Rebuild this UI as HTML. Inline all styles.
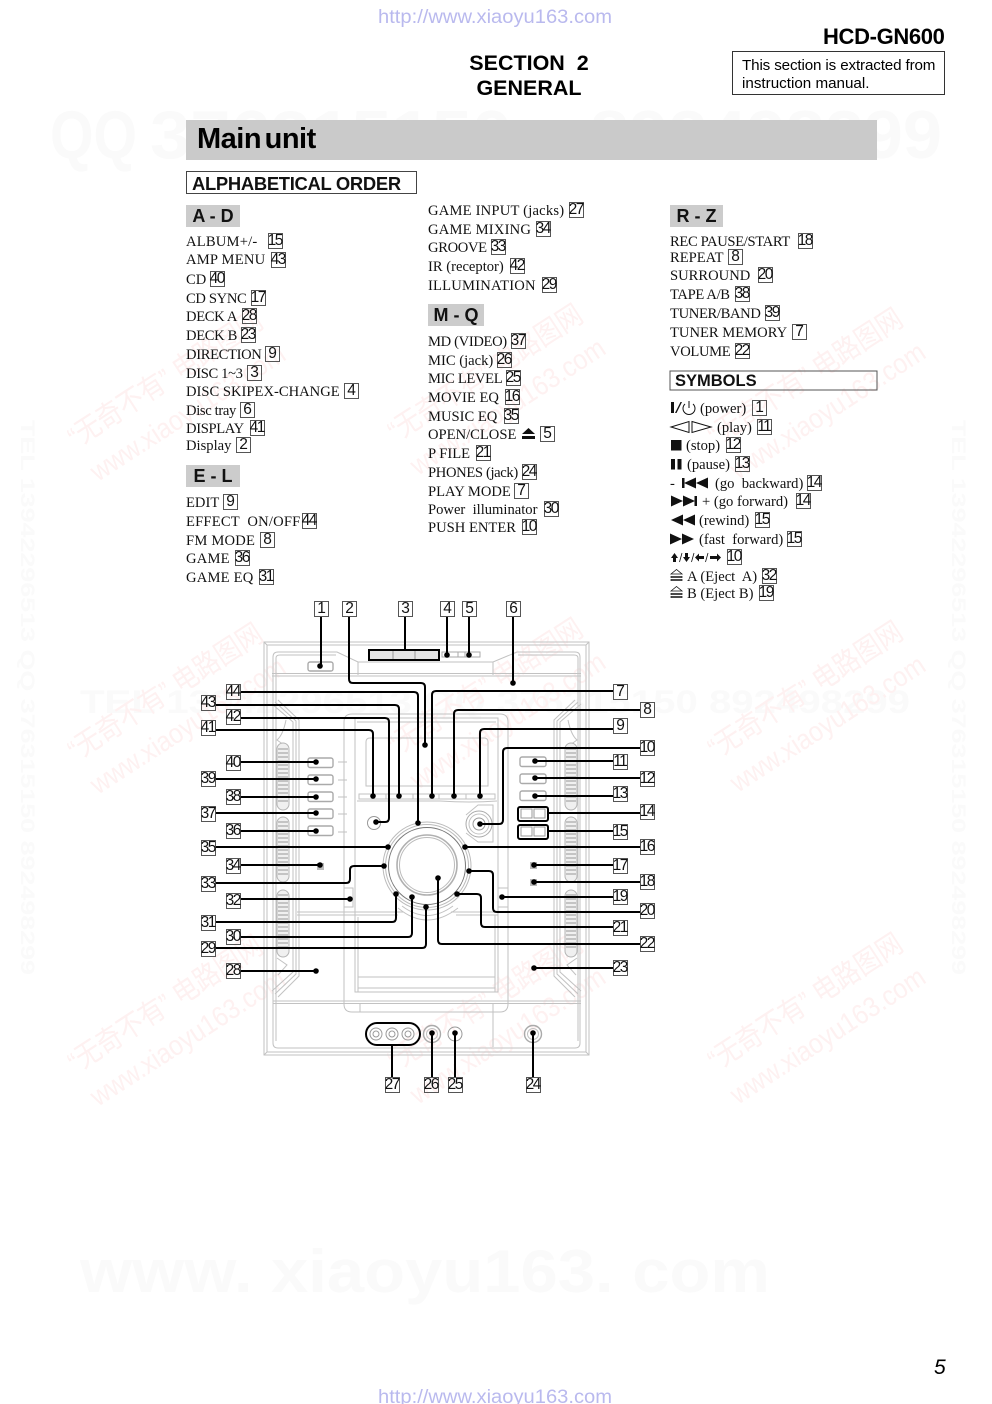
<!DOCTYPE html>
<html><head><meta charset="utf-8"><style>
html,body{margin:0;padding:0;background:#fff}
body{position:relative;width:992px;height:1404px;overflow:hidden}
svg{position:absolute;left:0;top:0}
.t{position:absolute;font:14.6px/16px "Liberation Serif",serif;white-space:pre;color:#111;margin-top:1px}
.n{letter-spacing:-.35px}
.w{letter-spacing:.2px}
i{position:absolute;box-sizing:border-box;height:16px;width:15px;border:1px solid #555;font:normal 15.5px/14px "Liberation Sans",sans-serif;text-align:center;letter-spacing:-1.5px;color:#111;white-space:nowrap;text-indent:-1.5px}
.h{position:absolute;background:#ccc;font:bold 18px/22px "Liberation Sans",sans-serif;text-align:center;height:22px;color:#111}
.s{position:absolute;font:bold 17.5px/20px "Liberation Sans",sans-serif;white-space:pre;color:#111}
</style></head><body>
<svg width="992" height="1404" viewBox="0 0 992 1404" font-family="Liberation Sans, Noto Sans CJK SC, sans-serif">
<defs>
<g id="wm"><text x="0" y="-40" font-size="29" textLength="225" lengthAdjust="spacingAndGlyphs">“无奇不有” 电路图网</text><text x="0" y="0" font-size="28" textLength="226" lengthAdjust="spacingAndGlyphs">www.xiaoyu163.com</text></g>
</defs>
<g fill="#fafafa" font-weight="bold">
<text x="50" y="158" font-size="68" textLength="87" lengthAdjust="spacingAndGlyphs">QQ</text>
<text x="150" y="158" font-size="68" textLength="362" lengthAdjust="spacingAndGlyphs">376315150</text>
<text x="590" y="158" font-size="68" textLength="352" lengthAdjust="spacingAndGlyphs">892498299</text>
<text x="80" y="713" font-size="32" textLength="830" lengthAdjust="spacingAndGlyphs">TEL 13942296513  QQ 376315150  892498299</text>
<text x="80" y="1292" font-size="60" textLength="690" lengthAdjust="spacingAndGlyphs">www. xiaoyu163. com</text>
<text transform="translate(21,420) rotate(90)" font-size="19" textLength="555" lengthAdjust="spacingAndGlyphs">TEL 13942296513  QQ 376315150  892498299</text>
<text transform="translate(952,420) rotate(90)" font-size="19" textLength="555" lengthAdjust="spacingAndGlyphs">TEL 13942296513  QQ 376315150  892498299</text>
</g>
<g fill="#fef1f1">
<use href="#wm" transform="translate(98,482) rotate(-33)"/>
<use href="#wm" transform="translate(418,476) rotate(-33)"/>
<use href="#wm" transform="translate(738,480) rotate(-33)"/>
<use href="#wm" transform="translate(98,795) rotate(-33)"/>
<use href="#wm" transform="translate(418,790) rotate(-33)"/>
<use href="#wm" transform="translate(738,793) rotate(-33)"/>
<use href="#wm" transform="translate(98,1107) rotate(-33)"/>
<use href="#wm" transform="translate(418,1105) rotate(-33)"/>
<use href="#wm" transform="translate(738,1105) rotate(-33)"/>
</g>
<g fill="#b9b9ee" font-size="19"><text x="378" y="23" textLength="234" lengthAdjust="spacingAndGlyphs">http://www.xiaoyu163.com</text><text x="378" y="1403" textLength="234" lengthAdjust="spacingAndGlyphs">http://www.xiaoyu163.com</text></g>
<rect x="186" y="120" width="691" height="40" fill="#cacaca"/>
<rect x="732.5" y="51.5" width="212" height="43" fill="none" stroke="#333"/>
<rect x="186.5" y="171.5" width="230" height="22" fill="none" stroke="#444"/>
<rect x="670" y="371" width="207" height="19" fill="none" stroke="#555"/>

<!-- device outline -->
<g fill="none" stroke="#c2c2c2" stroke-width="1">
<path d="M264 1055V642H589V1055Z"/>
<path d="M267 1052V645H586V1052ZM264 642L267 645M589 642L586 645M264 1055L267 1052M589 1055L586 1052"/>
<path d="M273 1043V657Q273 652 278 652H337L358 662H493L517 652H575Q580 652 580 657V1043Q580 1048 575 1048H278Q273 1048 273 1043Z"/>
<path d="M276 1041V658Q276 655 280 655H336M578 1041V658Q578 655 574 655H518"/>
<path d="M358 662V675M493 662V675"/>
<path d="M272 673.5H581M272 676H581"/>
<path d="M272 704L293 722V972L272 991M275 702L296 721V974L275 994M278 700L299 720V976L278 997"/>
<path d="M581 704L560 722V972L581 991M578 702L557 721V974L578 994M575 700L554 720V976L575 997"/>
<path d="M273 1001H581M273 1003.5H581"/>
<path d="M344 722Q344 714 352 714H500Q508 714 508 722V1004Q508 1012 500 1012H352Q344 1012 344 1004Z"/>
<path d="M355 718H498V992H355ZM357 722H496M358 992V917M495 992V915"/>
<path d="M366 786V742Q366 738 370 738H484Q488 738 488 742V786H366Z"/>
<path d="M359 794H495V799H359ZM386 794V799M413 794V799M439 794V799M466 794V799"/>
<path d="M357 801H440Q470 803 497 801"/>
<path d="M297 912H403M451 912H508M297 915H398M456 915H498"/>
<path d="M358 977H495M358 988H495"/>
<path d="M360 1003V1012M493 1003V1047"/>
<path d="M344 888H353V907H344M508 888H498V907H508"/>
<path d="M402 906Q427 925 453 906M398 908Q427 932 458 908"/>
<path d="M286 720Q283 735 277 740L284 745M568 720Q571 735 577 740L570 745M277 958L287 965L278 975M577 958L567 965L576 975"/>
<g fill="#f0f0f0" stroke="#b5b5b5">
<rect x="277" y="743" width="12" height="67" rx="6"/><rect x="277" y="817" width="12" height="65" rx="6"/><rect x="277" y="890" width="12" height="67" rx="6"/>
<rect x="565" y="743" width="12" height="67" rx="6"/><rect x="565" y="817" width="12" height="65" rx="6"/><rect x="565" y="890" width="12" height="67" rx="6"/>
</g>
<g fill="#fff" stroke="#aaa" stroke-width="1.4"><rect x="308" y="662" width="25" height="9" rx="2"/>
<rect x="308" y="758" width="25" height="9.5" rx="2"/><rect x="308" y="775" width="25" height="9.5" rx="2"/><rect x="308" y="792" width="25" height="9.5" rx="2"/><rect x="308" y="809" width="25" height="9.5" rx="2"/><rect x="308" y="826" width="25" height="9.5" rx="2"/>
<rect x="520" y="757" width="26" height="9.5" rx="2"/><rect x="520" y="774" width="26" height="9.5" rx="2"/><rect x="520" y="791" width="26" height="9.5" rx="2"/></g>
<path d="M338 762H347M338 780H347M338 797H347M338 814H347M338 832H347"/>
<path d="M442 652H480V657H442ZM458 652V657M465 652V657" stroke="#aaa"/>
<circle cx="374" cy="823" r="6.5" stroke="#999"/>
<circle cx="479" cy="824" r="13" stroke="#aaa"/><circle cx="479" cy="824" r="10"/><circle cx="479" cy="824" r="6" stroke="#999"/>
<path d="M466 815L478 805H493V842H478L466 833"/>
<circle cx="427" cy="866" r="44" stroke="#bbb"/><circle cx="427" cy="866" r="41.5" stroke="#bbb"/><circle cx="427" cy="866" r="38.5" stroke="#777"/>
<circle cx="427" cy="865" r="30" stroke="#b0b0b0" stroke-width="1.6"/><circle cx="427" cy="865" r="27.5" stroke="#bbb"/>
<circle cx="432" cy="1034" r="8.5" stroke="#aaa" stroke-width="1.4"/><circle cx="432" cy="1034" r="5.5"/><circle cx="455" cy="1034" r="7" stroke="#999"/><circle cx="533" cy="1034" r="8.5" stroke="#aaa" stroke-width="1.4"/><circle cx="533" cy="1034" r="5.5"/>
<g stroke="#999"><circle cx="376" cy="1034" r="6"/><circle cx="376" cy="1034" r="3"/><circle cx="392" cy="1034" r="6"/><circle cx="392" cy="1034" r="3"/><circle cx="408" cy="1034" r="6"/><circle cx="408" cy="1034" r="3"/></g>
</g>
<g stroke="#aaa" stroke-width="1.2">
<path d="M278 749H288M278 753H288M278 757H288M278 761H288M278 765H288M278 769H288M278 773H288M278 777H288M278 781H288M278 785H288M278 789H288M278 793H288M278 797H288M278 801H288"/>
<path d="M278 822H288M278 826H288M278 830H288M278 834H288M278 838H288M278 842H288M278 846H288M278 850H288M278 854H288M278 858H288M278 862H288M278 866H288M278 870H288M278 874H288"/>
<path d="M278 895H288M278 899H288M278 903H288M278 907H288M278 911H288M278 915H288M278 919H288M278 923H288M278 927H288M278 931H288M278 935H288M278 939H288M278 943H288M278 947H288"/>
<path d="M566 749H576M566 753H576M566 757H576M566 761H576M566 765H576M566 769H576M566 773H576M566 777H576M566 781H576M566 785H576M566 789H576M566 793H576M566 797H576M566 801H576"/>
<path d="M566 822H576M566 826H576M566 830H576M566 834H576M566 838H576M566 842H576M566 846H576M566 850H576M566 854H576M566 858H576M566 862H576M566 866H576M566 870H576M566 874H576"/>
<path d="M566 895H576M566 899H576M566 903H576M566 907H576M566 911H576M566 915H576M566 919H576M566 923H576M566 927H576M566 931H576M566 935H576M566 939H576M566 943H576M566 947H576"/>
</g>
<g fill="#bbb"><rect x="317" y="863" width="7" height="7"/><rect x="530" y="862" width="7" height="7"/><rect x="530" y="879" width="7" height="7"/></g>
<rect x="370" y="650.5" width="68" height="8.5" fill="#e4e4e4"/>
<path d="M393 651V659M415 651V659" stroke="#999"/>
<g fill="none" stroke="#999"><rect x="521" y="809" width="11" height="9"/><rect x="534" y="809" width="11" height="9"/><rect x="521" y="827" width="11" height="9"/><rect x="534" y="827" width="11" height="9"/></g>

<!-- callouts -->
<g fill="none" stroke="#000" stroke-width="2">
<path d="M321 616V666"/>
<path d="M349 616V679Q349 683 353 683H421Q425 683 425 687V745"/>
<path d="M405 616V649M447 616V655M469 616V655M513 616V683"/>
<rect x="369" y="650" width="70" height="10"/>
<path d="M613 691H436Q432 691 432 695V796"/>
<path d="M640 710H458Q454 710 454 714V796"/>
<path d="M613 729H484Q480 729 480 733V796"/>
<path d="M640 748H507Q503 748 503 752V820Q503 824 499 824H480"/>
<path d="M613 761H535M640 778H535M613 796H535"/>
<path d="M640 813H548M613 831H548"/>
<rect x="518" y="807" width="30" height="14" rx="2"/><rect x="518" y="825" width="30" height="14" rx="2"/>
<path d="M640 847H465M613 865H534M640 882H534M613 897H502"/>
<path d="M640 912H497Q493 912 493 908V875Q493 871 489 871H469"/>
<path d="M613 927H485Q481 927 481 923V898Q481 894 477 894H457"/>
<path d="M640 944H442Q438 944 438 940V878"/>
<path d="M613 968H534"/>
<path d="M533 1077V1033M455 1077V1033M432 1077V1033M392 1077V1045"/>
<rect x="366" y="1023" width="54" height="22" rx="11"/>
<path d="M241 692H414Q418 692 418 696V823"/>
<path d="M216 705H395Q399 705 399 709V796"/>
<path d="M241 718H385Q389 718 389 722V818Q389 822 385 822H376"/>
<path d="M216 730H369Q373 730 373 734V796"/>
<path d="M241 762H316M216 779H316M241 797H316M216 813H316M241 831H316"/>
<path d="M216 847H388M241 865H320"/>
<path d="M216 883H346Q350 883 350 879V870Q350 866 354 866H384"/>
<path d="M241 899H350"/>
<path d="M216 922H392Q396 922 396 918V894"/>
<path d="M241 937H408Q412 937 412 933V897"/>
<path d="M216 948H422Q426 948 426 944V907"/>
<path d="M241 971H316"/>
</g>
<g fill="#000">
<circle cx="320" cy="666" r="2.8"/><circle cx="425" cy="745" r="2.8"/><circle cx="447" cy="655" r="2.8"/><circle cx="469" cy="655" r="2.8"/><circle cx="513" cy="683" r="2.8"/>
<circle cx="432" cy="796" r="2.8"/><circle cx="454" cy="796" r="2.8"/><circle cx="480" cy="796" r="2.8"/><circle cx="480" cy="824" r="2.8"/>
<circle cx="535" cy="761" r="2.8"/><circle cx="535" cy="778" r="2.8"/><circle cx="535" cy="796" r="2.8"/>
<circle cx="465" cy="847" r="2.8"/><circle cx="534" cy="865" r="2.8"/><circle cx="534" cy="882" r="2.8"/><circle cx="502" cy="897" r="2.8"/>
<circle cx="469" cy="871" r="2.8"/><circle cx="457" cy="894" r="2.8"/><circle cx="438" cy="878" r="2.8"/><circle cx="534" cy="968" r="2.8"/>
<circle cx="533" cy="1033" r="2.8"/><circle cx="455" cy="1033" r="2.8"/><circle cx="432" cy="1033" r="2.8"/>
<circle cx="418" cy="823" r="2.8"/><circle cx="399" cy="796" r="2.8"/><circle cx="376" cy="822" r="2.8"/><circle cx="373" cy="796" r="2.8"/>
<circle cx="316" cy="762" r="2.8"/><circle cx="316" cy="779" r="2.8"/><circle cx="316" cy="797" r="2.8"/><circle cx="316" cy="813" r="2.8"/><circle cx="316" cy="831" r="2.8"/>
<circle cx="388" cy="847" r="2.8"/><circle cx="320" cy="865" r="2.8"/><circle cx="384" cy="866" r="2.8"/><circle cx="350" cy="899" r="2.8"/>
<circle cx="396" cy="894" r="2.8"/><circle cx="412" cy="897" r="2.8"/><circle cx="426" cy="907" r="2.8"/><circle cx="316" cy="971" r="2.8"/>
</g>
<!-- symbol icons -->
<g fill="#111" stroke="none">
<rect x="671" y="402" width="3" height="11"/><path d="M675 413L680.5 402H682L676.5 413Z"/>
<path d="M671 427L689 421.5V432.5ZM692 421.5L711 427L692 432.5Z" fill="none" stroke="#111"/>
<rect x="671" y="440" width="10.5" height="10.5"/>
<rect x="671" y="459" width="4" height="10.5"/><rect x="677.5" y="459" width="4" height="10.5"/>
<rect x="682" y="478" width="2.5" height="10"/><path d="M684 483L696 477.5V488.5ZM696 483L708 477.5V488.5Z"/>
<rect x="694.5" y="496" width="2.5" height="10"/><path d="M695 501L683 495.5V506.5ZM683 501L671 495.5V506.5Z"/>
<path d="M671 520L683 514.5V525.5ZM683 520L695 514.5V525.5Z"/>
<path d="M694 539L682 533.5V544.5ZM682 539L670 533.5V544.5Z"/>
<path d="M671 574L676.5 569.5L682 574Z M671 576.5H682V577.5H671ZM671 579.5H682V580.5H671Z" fill="none" stroke="#111" stroke-width=".8"/>
<path d="M671 591L676.5 586.5L682 591Z M671 593.5H682V594.5H671ZM671 596.5H682V597.5H671Z" fill="none" stroke="#111" stroke-width=".8"/>
<path d="M522 434L528.5 428L535 434ZM522 436H535V439H522Z"/>
<path d="M671 558L674.5 553L678 558H676V562H673V558Z"/>
<path d="M683 557H685V553H688V557H690L686.5 562Z"/>
<path d="M695 557.5L699 553.5V556H704V559H699V561.5Z"/>
<path d="M721 557.5L717 553.5V556H710V559H717V561.5Z"/>
<path d="M679.5 562L682 553M691.5 562L694 553M705.5 562L708 553" stroke="#111" stroke-width=".8" fill="none"/>
</g>
<g fill="none" stroke="#111" stroke-width="1"><path d="M685 404A6 6 0 1 0 693 404M689 401V408"/></g>
</svg>

<div style="position:absolute;left:823px;top:24px;font:bold 22px/26px 'Liberation Sans',sans-serif;letter-spacing:-.35px">HCD-GN600</div>
<div style="position:absolute;left:440px;top:51px;width:178px;text-align:center;font:bold 21.5px/25px 'Liberation Sans',sans-serif;white-space:pre">SECTION  2
GENERAL</div>
<div style="position:absolute;left:742px;top:57px;font:15.2px/18px 'Liberation Sans',sans-serif;white-space:pre"><span style="letter-spacing:-.14px">This section is extracted from</span>
instruction manual.</div>
<div style="position:absolute;left:197px;top:122px;font:bold 29px/34px 'Liberation Sans',sans-serif;letter-spacing:-.5px;word-spacing:-4px">Main unit</div>
<div class="s" style="left:192px;top:174px;font-size:18.4px;letter-spacing:-.3px">ALPHABETICAL ORDER</div>
<div class="h" style="left:186px;top:205px;width:54px">A - D</div>
<div class="h" style="left:186px;top:465px;width:54px">E - L</div>
<div class="h" style="left:428px;top:304px;width:56px">M - Q</div>
<div class="h" style="left:670px;top:205px;width:53px">R - Z</div>
<div class="s" style="left:675px;top:371px;font-size:16.5px">SYMBOLS</div>

<div class="t w" style="left:186px;top:233px">ALBUM+/-</div><i style="left:268px;top:233px">15</i>
<div class="t w" style="left:186px;top:251px">AMP MENU</div><i style="left:271px;top:252px">43</i>
<div class="t" style="left:186px;top:271px">CD</div><i style="left:210px;top:271px">40</i>
<div class="t n" style="left:186px;top:290px">CD SYNC</div><i style="left:251px;top:290px">17</i>
<div class="t n" style="left:186px;top:308px">DECK A</div><i style="left:242px;top:308px">28</i>
<div class="t n" style="left:186px;top:327px">DECK B</div><i style="left:241px;top:327px">23</i>
<div class="t n" style="left:186px;top:346px">DIRECTION</div><i style="left:265px;top:346px">9</i>
<div class="t n" style="left:186px;top:365px">DISC 1~3</div><i style="left:247px;top:365px">3</i>
<div class="t" style="left:186px;top:383px">DISC SKIPEX-CHANGE</div><i style="left:344px;top:383px">4</i>
<div class="t n" style="left:186px;top:402px">Disc tray</div><i style="left:240px;top:402px">6</i>
<div class="t n" style="left:186px;top:420px">DISPLAY</div><i style="left:250px;top:420px">41</i>
<div class="t" style="left:186px;top:437px">Display</div><i style="left:236px;top:437px">2</i>
<div class="t" style="left:186px;top:494px">EDIT</div><i style="left:223px;top:494px">9</i>
<div class="t w" style="left:186px;top:513px">EFFECT  ON/OFF</div><i style="left:302px;top:513px">44</i>
<div class="t w" style="left:186px;top:532px">FM MODE</div><i style="left:260px;top:532px">8</i>
<div class="t w" style="left:186px;top:550px">GAME</div><i style="left:235px;top:550px">36</i>
<div class="t w" style="left:186px;top:569px">GAME EQ</div><i style="left:259px;top:569px">31</i>

<div class="t w" style="left:428px;top:202px">GAME INPUT (jacks)</div><i style="left:569px;top:202px">27</i>
<div class="t w" style="left:428px;top:221px">GAME MIXING</div><i style="left:536px;top:221px">34</i>
<div class="t n" style="left:428px;top:239px">GROOVE</div><i style="left:491px;top:239px">33</i>
<div class="t" style="left:428px;top:258px">IR (receptor)</div><i style="left:510px;top:258px">42</i>
<div class="t w" style="left:428px;top:277px">ILLUMINATION</div><i style="left:542px;top:277px">29</i>
<div class="t n" style="left:428px;top:333px">MD (VIDEO)</div><i style="left:511px;top:333px">37</i>
<div class="t" style="left:428px;top:352px">MIC (jack)</div><i style="left:497px;top:352px">26</i>
<div class="t n" style="left:428px;top:370px">MIC LEVEL</div><i style="left:506px;top:370px">25</i>
<div class="t" style="left:428px;top:389px">MOVIE EQ</div><i style="left:505px;top:389px">16</i>
<div class="t" style="left:428px;top:408px">MUSIC EQ</div><i style="left:504px;top:408px">35</i>
<div class="t" style="left:428px;top:426px">OPEN/CLOSE</div><i style="left:540px;top:426px">5</i>
<div class="t" style="left:428px;top:445px">P FILE</div><i style="left:476px;top:445px">21</i>
<div class="t n" style="left:428px;top:464px">PHONES (jack)</div><i style="left:522px;top:464px">24</i>
<div class="t" style="left:428px;top:483px">PLAY MODE</div><i style="left:514px;top:483px">7</i>
<div class="t" style="left:428px;top:501px">Power  illuminator</div><i style="left:544px;top:501px">30</i>
<div class="t" style="left:428px;top:519px">PUSH ENTER</div><i style="left:522px;top:519px">10</i>

<div class="t n" style="left:670px;top:233px">REC PAUSE/START</div><i style="left:798px;top:233px">18</i>
<div class="t" style="left:670px;top:249px">REPEAT</div><i style="left:728px;top:249px">8</i>
<div class="t" style="left:670px;top:267px">SURROUND</div><i style="left:758px;top:267px">20</i>
<div class="t n" style="left:670px;top:286px">TAPE A/B</div><i style="left:735px;top:286px">38</i>
<div class="t n" style="left:670px;top:305px">TUNER/BAND</div><i style="left:765px;top:305px">39</i>
<div class="t" style="left:670px;top:324px">TUNER MEMORY</div><i style="left:792px;top:324px">7</i>
<div class="t n" style="left:670px;top:343px">VOLUME</div><i style="left:735px;top:343px">22</i>

<div class="t" style="left:700px;top:400px">(power)</div><i style="left:752px;top:400px">1</i>
<div class="t" style="left:717px;top:419px">(play)</div><i style="left:757px;top:419px">11</i>
<div class="t" style="left:686px;top:437px">(stop)</div><i style="left:726px;top:437px">12</i>
<div class="t" style="left:687px;top:456px">(pause)</div><i style="left:735px;top:456px">13</i>
<div class="t" style="left:670px;top:475px">-</div><div class="t" style="left:715px;top:475px">(go  backward)</div><i style="left:807px;top:475px">14</i>
<div class="t" style="left:702px;top:493px">+ (go forward)</div><i style="left:796px;top:493px">14</i>
<div class="t" style="left:699px;top:512px">(rewind)</div><i style="left:755px;top:512px">15</i>
<div class="t" style="left:699px;top:531px">(fast  forward)</div><i style="left:787px;top:531px">15</i>
<i style="left:727px;top:549px">10</i>
<div class="t" style="left:687px;top:568px">A (Eject  A)</div><i style="left:762px;top:568px">32</i>
<div class="t" style="left:687px;top:585px">B (Eject B)</div><i style="left:759px;top:585px">19</i>

<i style="left:314px;top:601px">1</i><i style="left:342px;top:601px">2</i><i style="left:398px;top:601px">3</i><i style="left:440px;top:601px">4</i><i style="left:462px;top:601px">5</i><i style="left:506px;top:601px">6</i>
<i style="left:613px;top:684px">7</i><i style="left:640px;top:702px">8</i><i style="left:613px;top:718px">9</i><i style="left:640px;top:740px">10</i><i style="left:613px;top:754px">11</i><i style="left:640px;top:771px">12</i><i style="left:613px;top:786px">13</i><i style="left:640px;top:804px">14</i><i style="left:613px;top:824px">15</i><i style="left:640px;top:839px">16</i><i style="left:613px;top:858px">17</i><i style="left:640px;top:874px">18</i><i style="left:613px;top:889px">19</i><i style="left:640px;top:903px">20</i><i style="left:613px;top:920px">21</i><i style="left:640px;top:936px">22</i><i style="left:613px;top:960px">23</i>
<i style="left:526px;top:1077px">24</i><i style="left:448px;top:1077px">25</i><i style="left:424px;top:1077px">26</i><i style="left:385px;top:1077px">27</i>
<i style="left:226px;top:963px">28</i><i style="left:201px;top:941px">29</i><i style="left:226px;top:929px">30</i><i style="left:201px;top:915px">31</i><i style="left:226px;top:893px">32</i><i style="left:201px;top:876px">33</i><i style="left:226px;top:858px">34</i><i style="left:201px;top:840px">35</i><i style="left:226px;top:823px">36</i><i style="left:201px;top:806px">37</i><i style="left:226px;top:789px">38</i><i style="left:201px;top:771px">39</i><i style="left:226px;top:755px">40</i><i style="left:201px;top:720px">41</i><i style="left:226px;top:709px">42</i><i style="left:201px;top:695px">43</i><i style="left:226px;top:684px">44</i>

<div style="position:absolute;left:934px;top:1356px;font:italic 21px/24px 'Liberation Sans',sans-serif">5</div>
</body></html>
